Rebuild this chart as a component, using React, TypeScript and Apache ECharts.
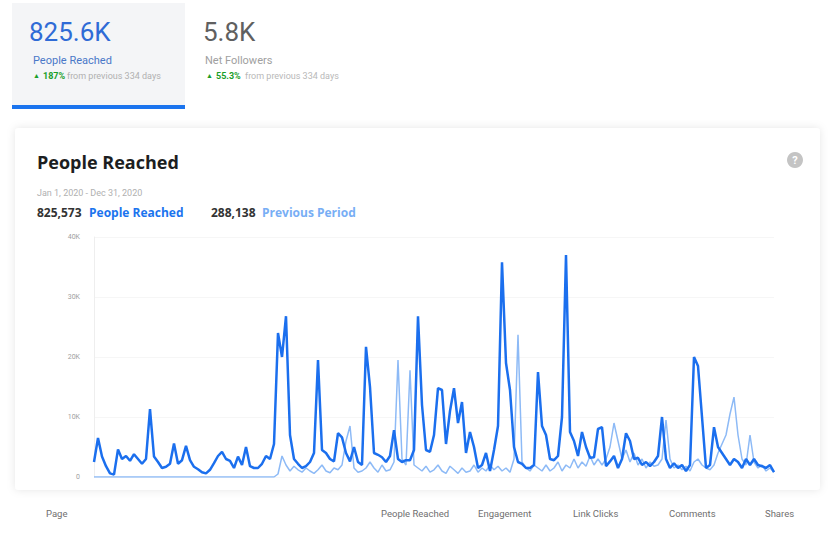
import React, { useEffect, useRef } from "react";
import * as echarts from "echarts";

// Values in thousands of people reached, one point every ~2 days
const peopleReached = [
  2.5, 6.5, 3.4, 1.8, 0.6, 0.4, 4.6, 3.0, 3.5, 2.7,
  3.8, 3.0, 2.2, 3.0, 11.3, 3.4, 2.5, 1.5, 1.7, 2.2,
  5.6, 2.2, 2.8, 5.2, 2.8, 1.7, 1.3, 0.8, 0.6, 1.2,
  2.3, 3.5, 4.2, 3.0, 2.7, 1.5, 3.4, 2.0, 5.0, 1.8,
  1.5, 1.5, 2.2, 3.5, 3.0, 5.5, 24.0, 20.0, 26.8, 7.0,
  3.0, 2.2, 1.5, 1.8, 2.5, 4.0, 19.5, 4.5, 4.0, 3.0,
  2.6, 7.3, 6.6, 4.0, 2.6, 5.0, 2.5, 2.0, 21.7, 15.0,
  4.0, 3.7, 3.3, 2.5, 3.5, 7.8, 3.0, 2.5, 2.8, 2.8,
  4.5, 26.8, 12.0, 4.5, 4.2, 7.0, 14.8, 14.5, 5.5, 11.0,
  14.8, 9.0, 12.5, 4.0, 7.5, 5.0, 1.5, 2.0, 4.0, 1.0,
  4.5, 8.5, 35.8, 19.0, 14.5, 5.0, 2.5, 2.2, 1.5, 1.5,
  2.0, 17.5, 8.5, 7.0, 3.0, 2.8, 3.5, 10.0, 37.0, 7.5,
  6.0, 3.5, 7.5, 5.0, 3.2, 3.3, 8.0, 8.3, 1.8, 2.6,
  3.5, 1.5, 3.0, 7.3, 6.0, 3.0, 3.2, 2.0, 2.5, 1.8,
  2.5, 3.5, 10.0, 3.0, 1.5, 2.3, 1.5, 2.0, 1.0, 2.0,
  20.0, 18.5, 10.0, 1.5, 2.0, 8.3, 5.0, 4.0, 3.0, 2.0,
  3.0, 2.5, 1.5, 3.0, 2.0, 3.0, 2.0, 1.8, 1.5, 2.0,
  0.8,
];

const previousPeriod = [
  0, 0, 0, 0, 0, 0, 0, 0, 0, 0,
  0, 0, 0, 0, 0, 0, 0, 0, 0, 0,
  0, 0, 0, 0, 0, 0, 0, 0, 0, 0,
  0, 0, 0, 0, 0, 0, 0, 0, 0, 0,
  0, 0, 0, 0, 0, 0, 0.5, 3.5, 2.0, 1.0,
  1.8, 1.2, 0.8, 1.5, 1.0, 0.6, 1.2, 2.0, 1.0, 0.7,
  1.5, 1.2, 2.0, 6.0, 8.5, 1.5, 0.8, 1.0, 1.5, 2.5,
  1.5, 0.8, 2.0, 1.0, 1.2, 2.5, 19.5, 3.0, 2.0, 17.8,
  2.0, 1.5, 1.0, 1.8, 0.8, 1.2, 2.0, 1.0, 0.6, 1.8,
  1.2, 0.6, 1.5, 0.8, 1.0, 2.0, 0.8, 1.5, 1.0, 2.0,
  1.2, 1.8, 1.0, 1.5, 0.8, 3.0, 23.7, 2.5, 1.5, 1.0,
  2.0, 1.5, 1.0, 2.0, 1.0, 1.5, 2.5, 1.0, 2.0, 1.5,
  3.0, 1.5, 2.5, 1.8, 3.5, 2.0, 3.0, 2.0, 3.0, 5.0,
  9.0, 6.0, 3.0, 4.5, 2.5, 4.0, 2.0, 3.0, 1.5, 2.5,
  1.8, 2.0, 3.0, 9.5, 3.0, 1.5, 2.0, 1.2, 1.8, 1.0,
  2.5, 3.0, 2.0, 1.5, 1.2, 2.0, 4.0, 5.5, 7.0, 10.5,
  13.3, 7.0, 3.0, 2.0, 7.0, 2.5, 1.5, 2.0, 1.0, 1.5,
  0.8,
];

const dayIndex = peopleReached.map((_, i) => String(i + 1));
const yTicks = [0, 10, 20, 30, 40];

const tableHeaders = ["Page", "People Reached", "Engagement", "Link Clicks", "Comments", "Shares"];
const tableHeaderX = [46, 381, 478, 573, 669, 765];

const FONT = "Roboto, 'Liberation Sans', Arial, sans-serif";
const WIDE = "'Open Sans', Roboto, Arial, sans-serif";

export default function App() {
  const ref = useRef<HTMLDivElement>(null);

  useEffect(() => {
    if (!ref.current) return;
    const chart = echarts.init(ref.current, undefined, { renderer: "svg" });

    const graphic: any[] = [
      // top tabs
      { type: "rect", z: -10, shape: { x: 12, y: 3, width: 173, height: 104 }, style: { fill: "#f4f5f7" } },
      { type: "rect", z: -10, shape: { x: 12, y: 105, width: 173, height: 4 }, style: { fill: "#1b74ee" } },
      { type: "text", x: 29, y: 32, style: { text: "825.6K", fontSize: 26, fontFamily: FONT, fill: "#2f6bd6", verticalAlign: "middle" } },
      { type: "text", x: 33, y: 60, style: { text: "People Reached", fontSize: 11, fontFamily: FONT, fill: "#4a78c8", verticalAlign: "middle" } },
      { type: "text", x: 33, y: 76, style: { text: "▲", fontSize: 7, fontFamily: FONT, fill: "#1a9e2a", verticalAlign: "middle" } },
      { type: "text", x: 43, y: 76, style: { text: "187%", fontSize: 9, fontWeight: "bold", fontFamily: FONT, fill: "#1a9e2a", verticalAlign: "middle" } },
      { type: "text", x: 67, y: 76, style: { text: "from previous 334 days", fontSize: 9, fontFamily: FONT, fill: "#b0b0b0", verticalAlign: "middle" } },
      { type: "text", x: 203, y: 32, style: { text: "5.8K", fontSize: 26, fontFamily: FONT, fill: "#606060", verticalAlign: "middle" } },
      { type: "text", x: 205, y: 60, style: { text: "Net Followers", fontSize: 11, fontFamily: FONT, fill: "#a0a0a0", verticalAlign: "middle" } },
      { type: "text", x: 206, y: 76, style: { text: "▲", fontSize: 7, fontFamily: FONT, fill: "#1a9e2a", verticalAlign: "middle" } },
      { type: "text", x: 216, y: 76, style: { text: "55.3%", fontSize: 9, fontWeight: "bold", fontFamily: FONT, fill: "#1a9e2a", verticalAlign: "middle" } },
      { type: "text", x: 245, y: 76, style: { text: "from previous 334 days", fontSize: 9, fontFamily: FONT, fill: "#b8b8b8", verticalAlign: "middle" } },
      // card
      { type: "rect", z: -20, shape: { x: 15, y: 128, width: 805, height: 362, r: 4 }, style: { fill: "#ffffff", shadowBlur: 8, shadowColor: "rgba(0,0,0,0.10)" } },
      { type: "text", x: 37, y: 162, style: { text: "People Reached", fontSize: 18, fontWeight: "bold", fontFamily: WIDE, fill: "#1c1e21", verticalAlign: "middle" } },
      { type: "text", x: 37, y: 193, style: { text: "Jan 1, 2020 - Dec 31, 2020", fontSize: 9, fontFamily: FONT, fill: "#b0b0b0", verticalAlign: "middle" } },
      { type: "text", x: 37, y: 212, style: { text: "825,573", fontSize: 12, fontWeight: "bold", fontFamily: WIDE, fill: "#333333", verticalAlign: "middle" } },
      { type: "text", x: 89, y: 212, style: { text: "People Reached", fontSize: 12, fontWeight: "bold", fontFamily: WIDE, fill: "#1b74ee", verticalAlign: "middle" } },
      { type: "text", x: 211, y: 212, style: { text: "288,138", fontSize: 12, fontWeight: "bold", fontFamily: WIDE, fill: "#333333", verticalAlign: "middle" } },
      { type: "text", x: 262, y: 212, style: { text: "Previous Period", fontSize: 12, fontWeight: "bold", fontFamily: WIDE, fill: "#78aef5", verticalAlign: "middle" } },
      // help icon
      { type: "circle", shape: { cx: 795, cy: 160, r: 8 }, style: { fill: "#c4c4c4" } },
      { type: "text", x: 795, y: 160, style: { text: "?", fontSize: 11, fontWeight: "bold", fontFamily: FONT, fill: "#ffffff", align: "center", verticalAlign: "middle" } },
    ];

    tableHeaders.forEach((h, i) => {
      graphic.push({
        type: "text",
        x: tableHeaderX[i],
        y: 513,
        style: { text: h, fontSize: 9.5, fontFamily: FONT, fill: "#6f6f6f", verticalAlign: "middle" },
      });
    });

    chart.setOption({
      animation: false,
      backgroundColor: "#ffffff",
      graphic,
      grid: { left: 94, right: 61, top: 237, bottom: 58 },
      xAxis: {
        type: "category",
        data: dayIndex,
        boundaryGap: false,
        axisLine: { show: false },
        axisTick: { show: false },
        axisLabel: { show: false },
        splitLine: { show: false },
      },
      yAxis: {
        type: "value",
        min: yTicks[0],
        max: yTicks[yTicks.length - 1],
        interval: 10,
        axisLine: { show: true, lineStyle: { color: "#eeeeee" } },
        axisTick: { show: false },
        axisLabel: {
          margin: 14,
          fontSize: 7,
          fontFamily: FONT,
          color: "#a0a0a0",
          formatter: (v: number) => (v === 0 ? "0" : v + "K"),
        },
        splitLine: { show: true, lineStyle: { color: "#f6f6f6" } },
      },
      series: [
        {
          name: "Previous Period",
          type: "line",
          data: previousPeriod,
          showSymbol: false,
          lineStyle: { color: "#8dbaf6", width: 1.5 },
          z: 2,
        },
        {
          name: "People Reached",
          type: "line",
          data: peopleReached,
          showSymbol: false,
          lineStyle: { color: "#1b6fee", width: 2.5 },
          z: 3,
        },
      ],
    });

    return () => chart.dispose();
  }, []);

  return (
    <div
      ref={ref}
      style={{ position: "absolute", left: 0, top: 0, width: 835, height: 535 }}
    />
  );
}
